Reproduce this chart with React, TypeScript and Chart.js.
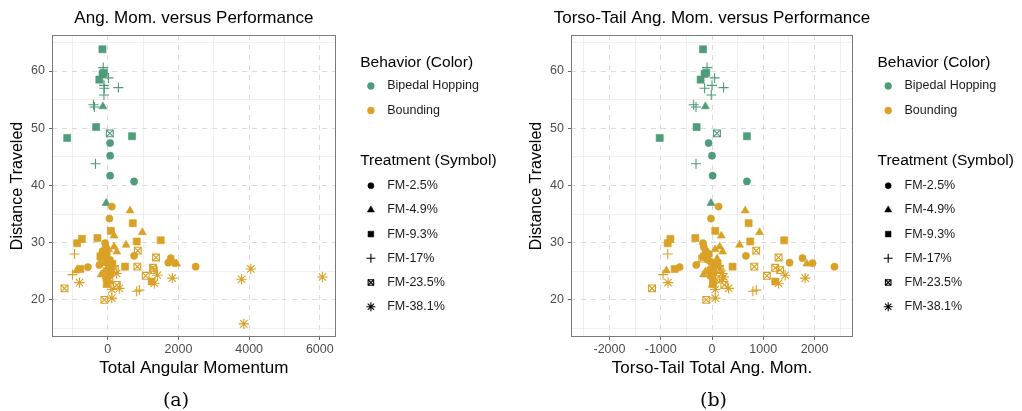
import React, { useEffect, useRef } from 'react';
import { Chart, registerables } from 'chart.js';

Chart.register(...registerables);

const FONT = '"Liberation Sans", Arial, Helvetica, sans-serif';
Chart.defaults.font.family = FONT;

const HOP_COLOR = '#4e9c78';
const BND_COLOR = '#d9a126';

const BEHAVIORS = ['Bipedal Hopping', 'Bounding'];
const TREATMENTS = ['FM-2.5%', 'FM-4.9%', 'FM-9.3%', 'FM-17%', 'FM-23.5%', 'FM-38.1%'];

// Each trial: distance traveled, total angular momentum, torso-tail angular momentum.

// ---- Bipedal hopping ----
const hopCircleDist = [47.4, 45.2, 41.7, 40.7];
const hopCircleTotal = [65, 65, 65, 743];
const hopCircleTorso = [-66, 0, 12, 681];

const hopTriangleDist = [53.8, 36.9];
const hopTriangleTotal = [-141, -48];
const hopTriangleTorso = [-130, -20];

const hopSquareDist = [63.8, 58.5, 59.5, 59.7, 50.2, 48.3, 48.6];
const hopSquareTotal = [-152, -240, -150, -110, -330, -1150, 686];
const hopSquareTorso = [-175, -222, -144, -111, -300, -1020, 681];

const hopCrossDist = [60.6, 58.8, 57.5, 57.0, 57.1, 55.8, 54.1, 53.7, 43.8];
const hopCrossTotal = [-130, 17, -110, -100, 300, -110, -407, -378, -350];
const hopCrossTorso = [-97, 51, 0, -144, 226, -14, -358, -312, -312];

const hopBoxDist = [49.1];
const hopBoxTotal = [56];
const hopBoxTorso = [97];

// ---- Bounding ----
const bndCircleDist = [36.3, 34.2, 29.9, 27.7, 27.3, 26.5, 26.4, 25.8, 26.1, 25.7, 29.2, 28.5, 28.0, 27.5, 27.0, 26.6, 26.0, 25.3, 24.6, 23.8];
const bndCircleTotal = [113, 45, -76, 743, 1780, 1712, 1900, 2486, -237, -565, -60, -150, -30, -120, 60, -80, 30, 0, 90, -50];
const bndCircleTorso = [129, -20, -175, 662, 1765, 1512, 1960, 2388, -306, -631, -160, -120, -60, -180, -80, -20, 60, -40, 30, 10];

const bndTriangleDist = [35.6, 31.8, 31.2, 29.6, 29.3, 28.4, 26.3, 25.1, 24.4, 22.6, 28.8, 27.2, 25.6, 24.9, 23.2];
const bndTriangleTotal = [630, 977, 178, 517, 178, 254, 1949, -890, -189, -28, 20, -40, 80, -110, 40];
const bndTriangleTorso = [648, 927, 181, 538, 150, 207, 1850, -890, -163, 0, 60, 100, 20, -130, 30];

const bndSquareDist = [33.4, 32.05, 30.8, 30.65, 29.9, 30.2, 30.4, 25.8, 23.2, 25.4, 27.6, 27.9, 26.3, 24.3, 22.8];
const bndSquareTotal = [706, 85, -294, -735, -867, 819, 1497, 489, 1243, -780, -210, -60, 130, 20, -30];
const bndSquareTorso = [714, 64, -325, -812, -864, 746, 1408, 401, 1233, -728, -150, -90, 110, -20, 20];

const bndCrossDist = [28.0, 21.5, 21.7, 24.4, 26.8];
const bndCrossTotal = [-943, 819, 893, -1000, -100];
const bndCrossTorso = [-864, 798, 862, -955, -50];

const bndBoxDist = [22.0, 20.0, 28.6, 27.4, 25.8, 25.6, 25.2, 24.2, 22.6, 27.2, 25.4, 23.6];
const bndBoxTotal = [-1226, -96, 847, 1364, 836, 1280, 1300, 1073, 254, -160, 200, 40];
const bndBoxTorso = [-1169, -111, 863, 1298, 824, 1233, 1330, 1071, 240, -190, 150, 80];

const bndStarDist = [23.0, 23.8, 22.9, 24.3, 23.6, 25.4, 15.8, 24.0, 20.3, 22.0, 21.8, 24.6];
const bndStarTotal = [-802, 1825, 1317, 1402, 3785, 4048, 3850, 6073, 113, 328, 113, 250];
const bndStarTorso = [-857, 1817, 1298, 1427, 200, 150, null, 230, 64, 324, 64, 195];

// ---- Axis ticks ----
const yTicks = [15, 20, 25, 30, 35, 40, 45, 50, 55, 60, 65];
const yLabels = [20, 30, 40, 50, 60];
const totalTicks = [-1000, 0, 1000, 2000, 3000, 4000, 5000, 6000];
const totalLabels = [0, 2000, 4000, 6000];
const torsoTicks = [-2500, -2000, -1500, -1000, -500, 0, 500, 1000, 1500, 2000, 2500];
const torsoLabels = [-2000, -1000, 0, 1000, 2000];

type Group = {
  behavior: number;
  treatment: number;
  dist: number[];
  total: (number | null)[];
  torso: (number | null)[];
};

const groups: Group[] = [
  { behavior: 1, treatment: 0, dist: bndCircleDist, total: bndCircleTotal, torso: bndCircleTorso },
  { behavior: 1, treatment: 1, dist: bndTriangleDist, total: bndTriangleTotal, torso: bndTriangleTorso },
  { behavior: 1, treatment: 2, dist: bndSquareDist, total: bndSquareTotal, torso: bndSquareTorso },
  { behavior: 1, treatment: 3, dist: bndCrossDist, total: bndCrossTotal, torso: bndCrossTorso },
  { behavior: 1, treatment: 4, dist: bndBoxDist, total: bndBoxTotal, torso: bndBoxTorso },
  { behavior: 1, treatment: 5, dist: bndStarDist, total: bndStarTotal, torso: bndStarTorso },
  { behavior: 0, treatment: 0, dist: hopCircleDist, total: hopCircleTotal, torso: hopCircleTorso },
  { behavior: 0, treatment: 1, dist: hopTriangleDist, total: hopTriangleTotal, torso: hopTriangleTorso },
  { behavior: 0, treatment: 2, dist: hopSquareDist, total: hopSquareTotal, torso: hopSquareTorso },
  { behavior: 0, treatment: 3, dist: hopCrossDist, total: hopCrossTotal, torso: hopCrossTorso },
  { behavior: 0, treatment: 4, dist: hopBoxDist, total: hopBoxTotal, torso: hopBoxTorso },
];

type Marker = { style: string; r: number; fill: boolean };

// Marker layers per treatment; the boxed cross is a square with a diagonal cross on top.
const markers: Marker[][] = [
  [{ style: 'circle', r: 3.6, fill: true }],
  [{ style: 'triangle', r: 4.6, fill: true }],
  [{ style: 'rect', r: 5, fill: true }],
  [{ style: 'cross', r: 5, fill: false }],
  [{ style: 'rect', r: 4.8, fill: false }, { style: 'crossRot', r: 4.8, fill: false }],
  [{ style: 'star', r: 5.2, fill: false }],
];

const legendMarkers: Marker[][] = [
  [{ style: 'circle', r: 3, fill: true }],
  [{ style: 'triangle', r: 4, fill: true }],
  [{ style: 'rect', r: 4, fill: true }],
  [{ style: 'cross', r: 4.5, fill: false }],
  [{ style: 'rect', r: 3.9, fill: false }, { style: 'crossRot', r: 3.9, fill: false }],
  [{ style: 'star', r: 4.5, fill: false }],
];

const colorOf = (b: number) => (b === 0 ? HOP_COLOR : BND_COLOR);

function drawMarker(ctx: CanvasRenderingContext2D, m: Marker, x: number, y: number, color: string) {
  const r = m.r;
  ctx.beginPath();
  ctx.strokeStyle = color;
  ctx.fillStyle = color;
  ctx.lineWidth = m.fill ? 0.6 : 1.1;
  if (m.style === 'circle') {
    ctx.arc(x, y, r, 0, Math.PI * 2);
  } else if (m.style === 'triangle') {
    for (let k = 0; k < 3; k++) {
      const a = (k * 2 * Math.PI) / 3;
      const px = x + Math.sin(a) * r;
      const py = y - Math.cos(a) * r;
      if (k === 0) ctx.moveTo(px, py);
      else ctx.lineTo(px, py);
    }
    ctx.closePath();
  } else if (m.style === 'rect') {
    const s = Math.SQRT1_2 * r;
    ctx.rect(x - s, y - s, 2 * s, 2 * s);
  } else {
    const arms = m.style === 'cross' ? [0] : m.style === 'crossRot' ? [Math.PI / 4] : [0, Math.PI / 4];
    for (const a of arms) {
      for (const b of [a, a + Math.PI / 2]) {
        const dx = Math.cos(b) * r;
        const dy = Math.sin(b) * r;
        ctx.moveTo(x - dx, y - dy);
        ctx.lineTo(x + dx, y + dy);
      }
    }
  }
  if (m.fill) ctx.fill();
  ctx.stroke();
}

type PanelCfg = {
  title: string;
  xTitle: string;
  caption: string;
  captionX: number;
  xMin: number;
  xMax: number;
  xTicks: number[];
  xLabels: number[];
  xKey: 'total' | 'torso';
  width: number;
  padRight: number;
};

const panelA: PanelCfg = {
  title: 'Ang. Mom. versus Performance',
  xTitle: 'Total Angular Momentum',
  caption: '(a)',
  captionX: 176,
  xMin: -1580,
  xMax: 6450,
  xTicks: totalTicks,
  xLabels: totalLabels,
  xKey: 'total',
  width: 518,
  padRight: 182.3,
};

const panelB: PanelCfg = {
  title: 'Torso-Tail Ang. Mom. versus Performance',
  xTitle: 'Torso-Tail Total Ang. Mom.',
  caption: '(b)',
  captionX: 194.5,
  xMin: -2750,
  xMax: 2750,
  xTicks: torsoTicks,
  xLabels: torsoLabels,
  xKey: 'torso',
  width: 503,
  padRight: 169,
};

const MAJOR_GRID = '#dcdcdc';
const MINOR_GRID = '#ececec';

function ChartPanel({ cfg, left }: { cfg: PanelCfg; left: number }) {
  const ref = useRef<HTMLCanvasElement | null>(null);

  useEffect(() => {
    if (!ref.current) return;

    const datasets: any[] = [];
    for (const g of groups) {
      const xs = g[cfg.xKey];
      const pts = g.dist
        .map((y, i) => ({ x: xs[i], y }))
        .filter((p) => p.x !== null && p.x !== undefined);
      const color = colorOf(g.behavior);
      for (const m of markers[g.treatment]) {
        datasets.push({
          type: 'scatter',
          label: `${BEHAVIORS[g.behavior]} ${TREATMENTS[g.treatment]}`,
          data: pts,
          pointStyle: m.style,
          pointRadius: m.r,
          pointHoverRadius: m.r,
          pointBackgroundColor: m.fill ? color : 'rgba(0,0,0,0)',
          pointBorderColor: color,
          pointBorderWidth: m.fill ? 0.6 : 1.1,
        });
      }
    }

    // Panel title centred over the plotting area, free to run wider than it.
    const titlePlugin = {
      id: 'panelTitle',
      afterDraw(chart: any) {
        const { ctx, chartArea: a } = chart;
        ctx.save();
        ctx.textAlign = 'center';
        ctx.textBaseline = 'middle';
        ctx.fillStyle = '#000';
        ctx.font = `17px ${FONT}`;
        ctx.fillText(cfg.title, (a.left + a.right) / 2, 18);
        ctx.restore();
      },
    };

    const framePlugin = {
      id: 'panelFrame',
      afterDatasetsDraw(chart: any) {
        const { ctx, chartArea: a } = chart;
        ctx.save();
        ctx.strokeStyle = '#7a7a7a';
        ctx.lineWidth = 1;
        ctx.strokeRect(Math.round(a.left) + 0.5, Math.round(a.top) + 0.5, Math.round(a.right - a.left) - 1, Math.round(a.bottom - a.top) - 1);
        ctx.restore();
      },
    };

    const legendPlugin = {
      id: 'groupLegend',
      afterDraw(chart: any) {
        const { ctx, chartArea } = chart;
        const x0 = chartArea.right + 24.5;
        ctx.save();
        ctx.textAlign = 'left';
        ctx.textBaseline = 'middle';
        ctx.fillStyle = '#000';
        ctx.font = `15.5px ${FONT}`;
        ctx.fillText('Behavior (Color)', x0, 63);
        ctx.fillText('Treatment (Symbol)', x0, 161);
        ctx.font = `12.5px ${FONT}`;
        BEHAVIORS.forEach((b, i) => {
          const y = 86 + i * 24.5;
          drawMarker(ctx, { style: 'circle', r: 3.4, fill: true }, x0 + 10.7, y, colorOf(i));
          ctx.fillStyle = '#1a1a1a';
          ctx.fillText(b, x0 + 27, y);
        });
        TREATMENTS.forEach((t, i) => {
          const y = 185.7 + i * 24.2;
          for (const m of legendMarkers[i]) drawMarker(ctx, m, x0 + 10.7, y, '#000');
          ctx.fillStyle = '#1a1a1a';
          ctx.fillText(t, x0 + 27, y);
        });
        ctx.restore();
      },
    };

    const captionPlugin = {
      id: 'panelCaption',
      afterDraw(chart: any) {
        const { ctx } = chart;
        ctx.save();
        ctx.textAlign = 'center';
        ctx.textBaseline = 'middle';
        ctx.fillStyle = '#000';
        ctx.font = '19px "DejaVu Serif", "Liberation Serif", serif';
        ctx.fillText(cfg.caption, cfg.captionX, 401);
        ctx.restore();
      },
    };

    const isIn = (list: number[], v: number) => list.some((t) => Math.abs(t - v) < 1e-6);

    const chart = new Chart(ref.current, {
      type: 'scatter',
      data: { datasets },
      plugins: [framePlugin, titlePlugin, legendPlugin, captionPlugin],
      options: {
        animation: false,
        responsive: false,
        events: [],
        layout: { padding: { left: 0, right: cfg.padRight, top: 35, bottom: 24.4 } },
        plugins: {
          legend: { display: false },
          tooltip: { enabled: false },
          title: { display: false },
        },
        scales: {
          x: {
            type: 'linear',
            min: cfg.xMin,
            max: cfg.xMax,
            afterBuildTicks: (s: any) => {
              s.ticks = cfg.xTicks.map((v) => ({ value: v }));
            },
            afterFit: (s: any) => {
              s.height = 49.6;
            },
            ticks: {
              autoSkip: false,
              maxRotation: 0,
              padding: 2,
              color: '#4d4d4d',
              font: { size: 12.5, family: FONT },
              callback: (v: any) => (isIn(cfg.xLabels, Number(v)) ? String(v) : ''),
            },
            grid: {
              color: (c: any) => (c.tick && isIn(cfg.xLabels, c.tick.value) ? MAJOR_GRID : MINOR_GRID),
              lineWidth: (c: any) => (c.tick && isIn(cfg.xLabels, c.tick.value) ? 1 : 0.8),
              tickLength: 3,
              tickWidth: 1,
              tickColor: (c: any) => (c.tick && isIn(cfg.xLabels, c.tick.value) ? '#6a6a6a' : 'rgba(0,0,0,0)'),
            },
            border: {
              display: false,
              dash: (c: any) => (c.tick && isIn(cfg.xLabels, c.tick.value) ? [5, 5] : []),
            },
            title: {
              display: true,
              text: cfg.xTitle,
              color: '#000',
              font: { size: 17, family: FONT },
              padding: { top: 0, bottom: 8 },
            },
          },
          y: {
            type: 'linear',
            min: 13.5,
            max: 66.3,
            afterBuildTicks: (s: any) => {
              s.ticks = yTicks.map((v) => ({ value: v }));
            },
            afterFit: (s: any) => {
              s.width = 52;
            },
            ticks: {
              autoSkip: false,
              padding: 4,
              color: '#4d4d4d',
              font: { size: 12.5, family: FONT },
              callback: (v: any) => (isIn(yLabels, Number(v)) ? String(v) : ''),
            },
            grid: {
              color: (c: any) => (c.tick && isIn(yLabels, c.tick.value) ? MAJOR_GRID : MINOR_GRID),
              lineWidth: (c: any) => (c.tick && isIn(yLabels, c.tick.value) ? 1 : 0.8),
              tickLength: 3,
              tickWidth: 1,
              tickColor: (c: any) => (c.tick && isIn(yLabels, c.tick.value) ? '#6a6a6a' : 'rgba(0,0,0,0)'),
            },
            border: {
              display: false,
              dash: (c: any) => (c.tick && isIn(yLabels, c.tick.value) ? [5, 5] : []),
            },
            title: {
              display: true,
              text: 'Distance Traveled',
              color: '#000',
              font: { size: 16, family: FONT },
              padding: { top: 8, bottom: 0 },
            },
          },
        },
      } as any,
    });

    return () => chart.destroy();
  }, [cfg]);

  return (
    <canvas
      ref={ref}
      width={cfg.width}
      height={411}
      style={{ position: 'absolute', left, top: 0, width: cfg.width, height: 411 }}
    />
  );
}

export default function App() {
  return (
    <div style={{ position: 'fixed', left: 0, top: 0, width: 1022, height: 411, background: '#fff', overflow: 'hidden' }}>
      <ChartPanel cfg={panelA} left={0} />
      <ChartPanel cfg={panelB} left={519} />
    </div>
  );
}
